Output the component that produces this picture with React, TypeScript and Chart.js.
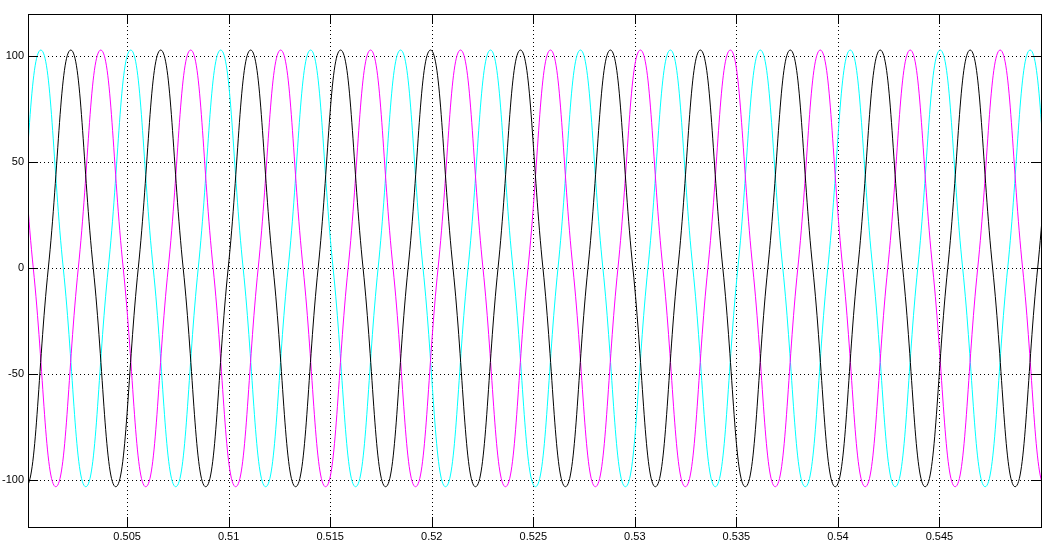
import React, { useEffect, useRef } from "react";
import { Chart, registerables } from "chart.js";

Chart.register(...registerables);

// Axis ranges and ticks
const xMin = 0.50012;
const xMax = 0.55;
const yMin = -122;
const yMax = 120;
const xTicks = [0.505, 0.51, 0.515, 0.52, 0.525, 0.53, 0.535, 0.54, 0.545];
const yTicks = [-100, -50, 0, 50, 100];

// Crest / trough level
const peakValue = 103;
const troughValue = -103;

// Black phase: times of crests, troughs and zero crossings
const blackPeaks = [0.502227, 0.506655, 0.511084, 0.515512, 0.519941, 0.52437, 0.528798, 0.533227, 0.537655, 0.542084, 0.546513, 0.550941];
const blackTroughs = [0.500012, 0.504441, 0.50887, 0.513298, 0.517727, 0.522155, 0.526584, 0.531013, 0.535441, 0.53987, 0.544298, 0.548727];
const blackZeros = [0.498905, 0.501119, 0.503334, 0.505548, 0.507762, 0.509977, 0.512191, 0.514405, 0.51662, 0.518834, 0.521048, 0.523263, 0.525477, 0.527691, 0.529905, 0.53212, 0.534334, 0.536548, 0.538763, 0.540977, 0.543191, 0.545406, 0.54762, 0.549834, 0.552048];

// Magenta phase
const magentaPeaks = [0.499275, 0.503703, 0.508131, 0.51256, 0.516988, 0.521417, 0.525846, 0.530274, 0.534703, 0.539131, 0.54356, 0.547989];
const magentaTroughs = [0.501488, 0.505917, 0.510346, 0.514774, 0.519203, 0.523631, 0.52806, 0.532489, 0.536917, 0.541346, 0.545774, 0.550203];
const magentaZeros = [0.498167, 0.500381, 0.502595, 0.50481, 0.507024, 0.509238, 0.511453, 0.513667, 0.515881, 0.518096, 0.52031, 0.522524, 0.524739, 0.526953, 0.529167, 0.531381, 0.533596, 0.53581, 0.538024, 0.540239, 0.542453, 0.544667, 0.546882, 0.549096, 0.55131];

// Cyan phase
const cyanPeaks = [0.500751, 0.505179, 0.509608, 0.514036, 0.518465, 0.522894, 0.527322, 0.531751, 0.536179, 0.540608, 0.545037, 0.549465];
const cyanTroughs = [0.498536, 0.502965, 0.507394, 0.511822, 0.516251, 0.520679, 0.525108, 0.529537, 0.533965, 0.538394, 0.542822, 0.547251, 0.551679];
const cyanZeros = [0.497429, 0.499643, 0.501858, 0.504072, 0.506286, 0.508501, 0.510715, 0.512929, 0.515144, 0.517358, 0.519572, 0.521787, 0.524001, 0.526215, 0.528429, 0.530644, 0.532858, 0.535072, 0.537287, 0.539501, 0.541715, 0.54393, 0.546144, 0.548358, 0.550572];

type Pt = { x: number; y: number };

function buildSeries(peaks: number[], troughs: number[], zeros: number[]): Pt[] {
  const pts: Pt[] = [
    ...peaks.map((x) => ({ x, y: peakValue })),
    ...troughs.map((x) => ({ x, y: troughValue })),
    ...zeros.map((x) => ({ x, y: 0 })),
  ];
  return pts.sort((a, b) => a.x - b.x);
}

const fmt = (v: number) => String(Number(v.toFixed(4)));

const framePlugin = {
  id: "matlabFrame",
  beforeDatasetsDraw(chart: any) {
    const { ctx, chartArea, scales } = chart;
    const { left, right, top, bottom } = chartArea;
    ctx.save();
    ctx.strokeStyle = "#000";
    ctx.lineWidth = 1;
    ctx.setLineDash([1, 3]);
    ctx.beginPath();
    for (const v of xTicks) {
      const px = Math.round(scales.x.getPixelForValue(v)) + 0.5;
      ctx.moveTo(px, top);
      ctx.lineTo(px, bottom);
    }
    for (const v of yTicks) {
      const py = Math.round(scales.y.getPixelForValue(v)) + 0.5;
      ctx.moveTo(left, py);
      ctx.lineTo(right, py);
    }
    ctx.stroke();
    ctx.restore();
  },
  afterDatasetsDraw(chart: any) {
    const { ctx, chartArea, scales } = chart;
    const { left, right, top, bottom } = chartArea;
    const tickLen = 10;
    ctx.save();
    ctx.strokeStyle = "#000";
    ctx.lineWidth = 1;
    ctx.setLineDash([]);
    ctx.beginPath();
    for (const v of xTicks) {
      const px = Math.round(scales.x.getPixelForValue(v)) + 0.5;
      ctx.moveTo(px, top);
      ctx.lineTo(px, top + tickLen);
      ctx.moveTo(px, bottom);
      ctx.lineTo(px, bottom - tickLen);
    }
    for (const v of yTicks) {
      const py = Math.round(scales.y.getPixelForValue(v)) + 0.5;
      ctx.moveTo(left, py);
      ctx.lineTo(left + tickLen, py);
      ctx.moveTo(right, py);
      ctx.lineTo(right - tickLen, py);
    }
    ctx.stroke();
    ctx.strokeRect(Math.round(left) + 0.5, Math.round(top) + 0.5, Math.round(right - left), Math.round(bottom - top));
    ctx.restore();
  },
};

export default function App() {
  const canvasRef = useRef<HTMLCanvasElement | null>(null);

  useEffect(() => {
    const canvas = canvasRef.current;
    if (!canvas) return;
    const tension = 0.45;
    const chart = new Chart(canvas, {
      type: "line",
      data: {
        datasets: [
          {
            label: "black",
            data: buildSeries(blackPeaks, blackTroughs, blackZeros),
            borderColor: "#000000",
            borderWidth: 1,
            pointRadius: 0,
            tension,
            fill: false,
          },
          {
            label: "magenta",
            data: buildSeries(magentaPeaks, magentaTroughs, magentaZeros),
            borderColor: "#ff00ff",
            borderWidth: 1,
            pointRadius: 0,
            tension,
            fill: false,
          },
          {
            label: "cyan",
            data: buildSeries(cyanPeaks, cyanTroughs, cyanZeros),
            borderColor: "#00ffff",
            borderWidth: 1,
            pointRadius: 0,
            tension,
            fill: false,
          },
        ],
      },
      options: {
        animation: false,
        responsive: false,
        events: [],
        layout: { padding: { top: 14, right: 16, left: 0, bottom: 0 } },
        plugins: {
          legend: { display: false },
          tooltip: { enabled: false },
          title: { display: false },
        },
        elements: { line: { capBezierPoints: false } },
        scales: {
          x: {
            type: "linear",
            min: xMin,
            max: xMax,
            grid: { display: false, drawTicks: false },
            border: { display: false },
            afterBuildTicks: (scale: any) => {
              scale.ticks = xTicks.map((v) => ({ value: v }));
            },
            afterFit: (scale: any) => {
              scale.height = 22;
            },
            ticks: {
              autoSkip: false,
              maxRotation: 0,
              minRotation: 0,
              padding: 3,
              color: "#000",
              font: { family: "'Liberation Sans', Arial, sans-serif", size: 11 },
              callback: (v: any) => fmt(Number(v)),
            },
          },
          y: {
            type: "linear",
            min: yMin,
            max: yMax,
            grid: { display: false, drawTicks: false },
            border: { display: false },
            afterBuildTicks: (scale: any) => {
              scale.ticks = yTicks.map((v) => ({ value: v }));
            },
            afterFit: (scale: any) => {
              scale.width = 28;
            },
            ticks: {
              autoSkip: false,
              padding: 4,
              color: "#000",
              font: { family: "'Liberation Sans', Arial, sans-serif", size: 11 },
              callback: (v: any) => fmt(Number(v)),
            },
          },
        },
      },
      plugins: [framePlugin],
    });
    return () => chart.destroy();
  }, []);

  return (
    <div style={{ position: "absolute", left: 0, top: 0, width: 1057, height: 549, background: "#fff" }}>
      <canvas ref={canvasRef} width={1057} height={549} style={{ display: "block", width: 1057, height: 549 }} />
    </div>
  );
}
